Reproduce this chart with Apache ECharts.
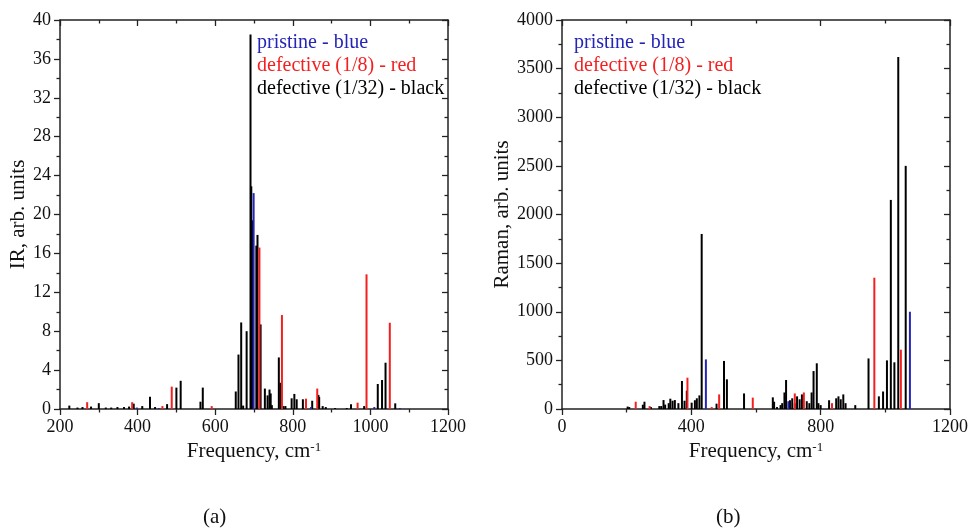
<!DOCTYPE html>
<html><head><meta charset="utf-8">
<script src="https://cdn.jsdelivr.net/npm/echarts@6/dist/echarts.min.js"></script>
<style>html,body{margin:0;padding:0;background:#fff}#c{width:971px;height:528px}</style>
</head><body><div id="c"></div>
<script>
// ---- IR spectrum (a) ----
const irBlackFreq = [224,245,258,280,300,318,332,348,365,378,390,412,432,445,476,500,511,562,568,653,660,667,672,681,691,693,697,706,709,717,728,735,740,743,746,764,768,776,781,797,804,810,826,850,866,868,877,885,909,939,950,984,1019,1030,1039,1064];
const irBlackVal  = [0.35,0.15,0.2,0.25,0.6,0.15,0.15,0.2,0.2,0.25,0.55,0.3,1.26,0.2,0.5,2.2,2.9,0.75,2.2,1.8,5.6,8.9,0.35,8.0,38.5,22.9,19.4,16.8,17.9,8.7,2.1,1.4,2.0,1.6,0.4,5.3,2.7,0.3,0.3,1.1,1.55,1.0,1.0,0.85,1.45,1.25,0.3,0.2,0.1,0.1,0.48,0.3,2.57,2.98,4.76,0.58];
const irRedFreq = [270,386,464,488,591,714,772,834,863,967,990,1050];
const irRedVal  = [0.7,0.7,0.3,2.3,0.3,16.6,9.66,1.06,2.1,0.65,13.85,8.87];
const irBlueFreq = [398,455,699,847,1010,1076];
const irBlueVal  = [0.15,0.1,22.2,0.2,0.2,0.1];

// ---- Raman spectrum (b) ----
const ramBlackFreq = [203,208,250,255,275,301,307,314,319,330,335,342,349,360,371,379,386,401,411,417,425,432,478,501,510,563,652,656,665,676,681,688,693,705,712,720,727,735,742,757,765,772,778,788,793,800,826,848,855,862,870,877,907,948,980,993,1005,1017,1028,1040,1063];
const ramBlackVal  = [25,20,44,75,20,30,30,92,45,60,106,85,92,60,288,85,188,65,90,110,140,1800,55,494,305,160,120,75,20,40,60,170,298,90,110,60,130,100,150,80,60,170,390,470,60,40,90,110,130,100,150,60,40,520,130,180,500,2150,480,3620,2500];
const ramRedFreq = [228,271,388,463,486,590,720,748,835,966,1048];
const ramRedVal  = [75,30,322,20,150,117,160,170,60,1350,610];
const ramBlueFreq = [445,700,1076];
const ramBlueVal  = [510,80,1000];

// axis settings
const irXTicks = {min:200, max:1200, interval:200};
const irYTicks = {min:0, max:40, interval:4};
const ramXTicks = {min:0, max:1200, interval:400};
const ramYTicks = {min:0, max:4000, interval:500};

const legendLines = ['pristine - blue','defective (1/8) - red','defective (1/32) - black'];

const FONT = '"Liberation Serif", "Times New Roman", serif';
const AX = '#222';
const BLUE = '#2424b8', RED = '#f41f1f', BLACK = '#000';

function pairs(f, v){ return f.map((x,i)=>[x, v[i]]); }

function mkAxis(kind, grid, t, pos, main, name, gap){
  return {
    type:'value', gridIndex:grid, min:t.min, max:t.max, interval:t.interval, position:pos,
    axisLine:{show:true, onZero:false, lineStyle:{color:AX, width:1.5}},
    axisTick:{show:true, inside:!main, length:6, lineStyle:{color:AX, width:1.3}},
    minorTick:{show:true, splitNumber:2, length:3.5, lineStyle:{color:AX, width:1.3}},
    splitLine:{show:false}, minorSplitLine:{show:false},
    axisLabel:{show:main, fontFamily:FONT, fontSize:18, color:'#111', margin:9,
      formatter:(v)=>String(v)},
    name: main ? name : '', nameLocation:'middle', nameGap: gap,
    nameTextStyle:{fontFamily:FONT, fontSize:21, color:'#111',
      rich:{a:{fontFamily:FONT, fontSize:21, color:'#111'}, s:{fontFamily:FONT, fontSize:13, color:'#111', verticalAlign:'top', padding:[0,0,8,0]}}}
  };
}

function bars(f, v, color, xi, yi){
  return {type:'bar', xAxisIndex:xi, yAxisIndex:yi, data:pairs(f,v), barWidth:2, barGap:'-100%',
    itemStyle:{color:color}, animation:false, silent:true};
}

function legendTexts(x){
  const cols=[BLUE, RED, BLACK];
  return legendLines.map((t,i)=>({type:'text', left:x, top:33+i*23,
    style:{text:t, fill:cols[i], fontFamily:FONT, fontSize:20}}));
}

const option = {
  animation:false,
  grid:[{left:60, top:20, width:388, height:389}, {left:562, top:20, width:390, height:389}],
  xAxis:[
    mkAxis('x',0,irXTicks,'bottom',true,'{a|Frequency, cm}{s|-1}',25),
    mkAxis('x',0,irXTicks,'top',false,'',0),
    mkAxis('x',1,ramXTicks,'bottom',true,'{a|Frequency, cm}{s|-1}',25),
    mkAxis('x',1,ramXTicks,'top',false,'',0)
  ],
  yAxis:[
    mkAxis('y',0,irYTicks,'left',true,'IR, arb. units',21),
    mkAxis('y',0,irYTicks,'right',false,'',0),
    mkAxis('y',1,ramYTicks,'left',true,'Raman, arb. units',31),
    mkAxis('y',1,ramYTicks,'right',false,'',0)
  ],
  series:[
    bars(irBlackFreq, irBlackVal, BLACK, 0, 0),
    bars(irRedFreq, irRedVal, RED, 0, 0),
    bars(irBlueFreq, irBlueVal, BLUE, 0, 0),
    bars(ramBlackFreq, ramBlackVal, BLACK, 2, 2),
    bars(ramRedFreq, ramRedVal, RED, 2, 2),
    bars(ramBlueFreq, ramBlueVal, BLUE, 2, 2)
  ],
  graphic:[].concat(legendTexts(257), legendTexts(574), [
    {type:'text', left:203, top:507, style:{text:'(a)', fill:'#111', fontFamily:FONT, fontSize:21}},
    {type:'text', left:716, top:507, style:{text:'(b)', fill:'#111', fontFamily:FONT, fontSize:21}}
  ])
};

const chart = echarts.init(document.getElementById('c'), null, {renderer:'canvas'});
chart.setOption(option);
</script></body></html>
